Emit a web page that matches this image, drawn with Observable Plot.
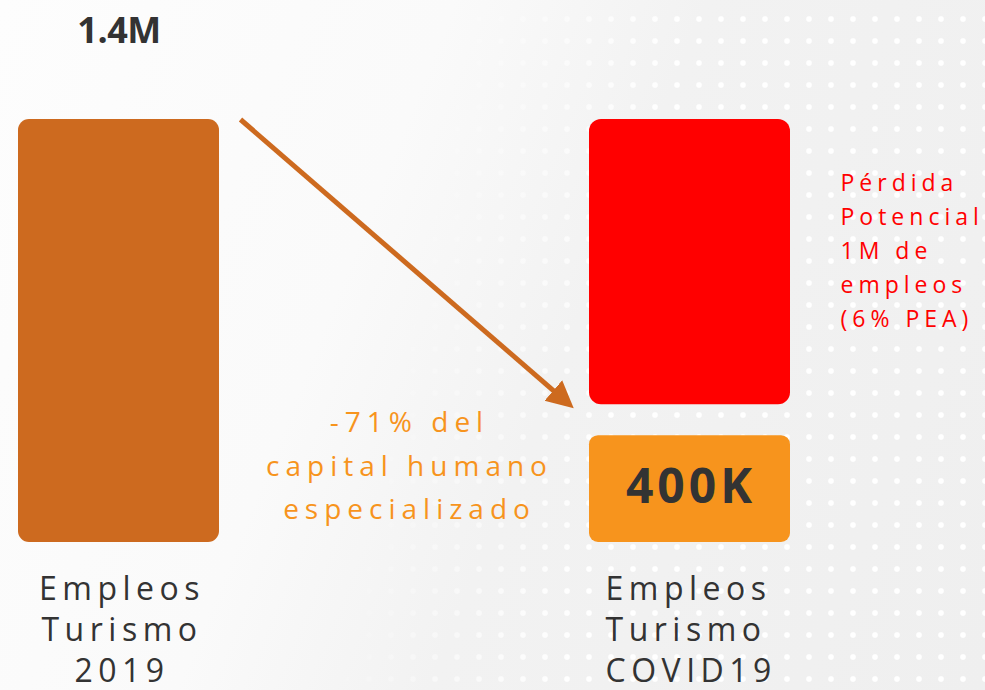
<!DOCTYPE html>
<html><head><meta charset="utf-8">
<script src="https://cdn.jsdelivr.net/npm/d3@7"></script>
<script src="https://cdn.jsdelivr.net/npm/@observablehq/plot@0.6"></script>
<style>
html,body{margin:0;padding:0;}
body{width:985px;height:690px;overflow:hidden;position:relative;
  background:linear-gradient(112deg,#fdfdfd 0%,#fafafa 36%,#f2f2f2 56%,#efefef 100%);}
#bg{position:absolute;left:0;top:0;width:985px;height:690px;
  background-image:radial-gradient(circle, rgba(255,255,255,0.95) 0 2.3px, rgba(255,255,255,0) 3.6px);
  background-size:22px 22px;background-position:6px 8px;
  -webkit-mask-image:linear-gradient(100deg, transparent 40%, #000 62%);
  mask-image:linear-gradient(100deg, transparent 40%, #000 62%);}
#chart{position:absolute;left:0;top:0;}
g[aria-description="cat"] text{letter-spacing:5.5px;}
g[aria-description="change"] text{letter-spacing:6px;}
g[aria-description="loss"] text{letter-spacing:5px;}
g[aria-description="big400"] text{letter-spacing:4px;}
g[aria-description="big14"] text{letter-spacing:-0.5px;}
</style>
</head>
<body>
<div id="bg"></div>
<div id="chart"></div>
<script>
// ---- data ----
const categories = ["2019", "COVID19"];
const categoryLabels = ["Empleos\nTurismo\n2019", "Empleos\nTurismo\nCOVID19"];
const segCategory = ["2019", "COVID19", "COVID19"];
const segKind = ["total", "restante", "perdida"];
const segFrom = [0, 0, 400000];
const segTo = [1400000, 400000, 1400000];
const valueLabels = ["1.4M", "400K"];
const changeLabel = "-71% del\ncapital humano\nespecializado";
const lossLabel = "Pérdida\nPotencial\n1M de\nempleos\n(6% PEA)";

// ---- layout constants ----
const hw = 100.5 / 571;           // half bar width in x units
const yTop = 119, yBottom = 542;
const pxPerValue = (yBottom - yTop) / 1400000;

const segs = segKind.map((k, i) => ({
  kind: k, cat: segCategory[i], pos: categories.indexOf(segCategory[i]),
  y1: segFrom[i], y2: segTo[i]
}));

const iA = categories.indexOf("2019"), iB = categories.indexOf("COVID19");
const arrowDatum = [{
  x1: iA + hw + 21 / 571, y1: segTo[0],
  x2: iB - hw - 28 / 571, y2: segTo[1] + 24 / pxPerValue
}];

const font = "Open Sans";
const chart = Plot.plot({
  width: 985, height: 690,
  margin: 0,
  style: {background: "transparent", fontFamily: font},
  x: {type: "linear", domain: [0, 1], range: [118.5, 689.5], axis: null},
  y: {domain: [0, 1400000], range: [yBottom, yTop], axis: null},
  color: {domain: ["total", "restante", "perdida"], range: ["#CD6A1F", "#F7941D", "#FF0000"]},
  marks: [
    Plot.rect(segs.filter(d => d.kind === "total"), {
      x1: d => d.pos - hw, x2: d => d.pos + hw, y1: "y1", y2: "y2", fill: "kind", rx: 11
    }),
    Plot.rect(segs.filter(d => d.kind === "restante"), {
      x1: d => d.pos - hw, x2: d => d.pos + hw, y1: "y1", y2: "y2", fill: "kind", rx: 9, insetTop: 14
    }),
    Plot.rect(segs.filter(d => d.kind === "perdida"), {
      x1: d => d.pos - hw, x2: d => d.pos + hw, y1: "y1", y2: "y2", fill: "kind", rx: 12, insetBottom: 17
    }),
    Plot.link(arrowDatum, {
      x1: "x1", y1: "y1", x2: "x2", y2: "y2",
      stroke: "#CD6A1F", strokeWidth: 5, ariaDescription: "arrow"
    }),
    Plot.text([valueLabels[0]], {
      x: iA, y: segTo[0], text: d => d, lineAnchor: "bottom", dy: -77,
      fontSize: 36, fontWeight: "bold", fill: "#333333", ariaDescription: "big14"
    }),
    Plot.text([valueLabels[1]], {
      x: iB, y: segTo[1] / 2, text: d => d, lineAnchor: "middle", dy: 6, dx: 1,
      fontSize: 48, fontWeight: "bold", fill: "#333333", ariaDescription: "big400"
    }),
    Plot.text([categoryLabels[iA]], {
      x: iA, y: 0, text: d => d, lineAnchor: "top", textAnchor: "middle",
      dy: 29, dx: 3, lineHeight: 1.27, fontSize: 32, fill: "#333333", ariaDescription: "cat"
    }),
    Plot.text([categoryLabels[iB]], {
      x: iB - hw, y: 0, text: d => d, lineAnchor: "top", textAnchor: "start",
      dy: 29, dx: 16, lineHeight: 1.27, fontSize: 32, fill: "#333333", ariaDescription: "cat"
    }),
    Plot.text([changeLabel], {
      x: (iA + iB) / 2, y: segTo[1], text: d => d, lineAnchor: "top", textAnchor: "middle",
      dy: -20, dx: 5, lineHeight: 1.55, fontSize: 28, fill: "#F7941D", ariaDescription: "change"
    }),
    Plot.text([lossLabel], {
      x: iB + hw, y: segTo[2], text: d => d, lineAnchor: "top", textAnchor: "start",
      dy: 47, dx: 50, lineHeight: 1.48, fontSize: 23, fill: "#FF0000", ariaDescription: "loss"
    })
  ]
});
document.getElementById("chart").appendChild(chart);

// filled arrow head on the link
const svg = d3.select(chart);
const defs = svg.insert("defs", ":first-child");
defs.append("marker")
  .attr("id", "ah").attr("viewBox", "0 0 10 10")
  .attr("refX", 4).attr("refY", 5)
  .attr("markerWidth", 27).attr("markerHeight", 30)
  .attr("markerUnits", "userSpaceOnUse").attr("orient", "auto")
  .append("path").attr("d", "M0,0L10,5L0,10Z").attr("fill", "#CD6A1F");
svg.selectAll('g[aria-description="arrow"] path').attr("marker-end", "url(#ah)");
</script>
</body></html>
